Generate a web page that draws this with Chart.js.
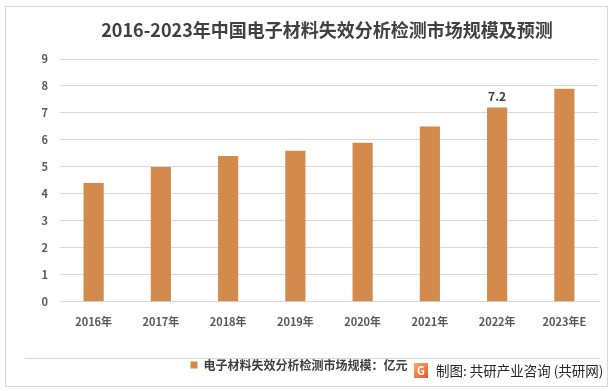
<!DOCTYPE html>
<html lang="zh">
<head>
    <meta charset="UTF-8">
    <script src="https://cdn.jsdelivr.net/npm/chart.js@4.4.0/dist/chart.umd.min.js"></script>
    <title>电子材料失效分析检测市场规模及预测</title>
    <style>
      body { margin: 0; background: #fff; }
      #box { position: absolute; left: 0; top: 0; width: 614px; height: 391px; }
    </style>
</head>
<body>
    <div id="box"><canvas id="chartEM" width="614" height="391"></canvas></div>
    <script>
      const years = ['2016年', '2017年', '2018年', '2019年', '2020年', '2021年', '2022年', '2023年E'];
      const marketSize = [4.4, 5.0, 5.4, 5.6, 5.9, 6.5, 7.2, 7.9];
      const yTicks = [0, 1, 2, 3, 4, 5, 6, 7, 8, 9];
      const labelledYears = ['2022年'];

      const FONT = '"Noto Sans CJK SC", "Noto Sans", sans-serif';
      const ORANGE = '#d38b4d';
      const TITLE = '2016-2023年中国电子材料失效分析检测市场规模及预测';

      // frame, title, separator line, value label and credit line
      const extras = {
        id: 'extras',
        afterDraw(chart) {
          const c = chart.ctx;
          const area = chart.chartArea;
          c.save();
          c.strokeStyle = '#d9d9d9';
          c.lineWidth = 1;
          c.strokeRect(5.5, 6.5, 602, 380);
          c.beginPath();
          c.moveTo(25, 358.5);
          c.lineTo(600, 358.5);
          c.stroke();

          c.fillStyle = '#404040';
          c.font = 'bold 18px ' + FONT;
          c.textAlign = 'center';
          c.textBaseline = 'middle';
          c.fillText(TITLE, (area.left + area.right) / 2 - 2, 30);

          const meta = chart.getDatasetMeta(0);
          c.font = 'bold 12px ' + FONT;
          c.textBaseline = 'bottom';
          years.forEach((y, i) => {
            if (labelledYears.includes(y)) {
              const bar = meta.data[i];
              c.fillText(marketSize[i].toFixed(1), bar.x, bar.y - 5);
            }
          });

          // logo
          const g = c.createLinearGradient(414, 362, 428, 378);
          g.addColorStop(0, '#f6b26b');
          g.addColorStop(1, '#e8542b');
          c.fillStyle = g;
          c.fillRect(414, 363, 14, 15);
          c.fillStyle = '#fff';
          c.font = 'bold 11px ' + FONT;
          c.textBaseline = 'middle';
          c.fillText('G', 421, 371);

          c.fillStyle = '#262626';
          c.font = '13.5px ' + FONT;
          c.textAlign = 'left';
          c.fillText('制图: 共研产业咨询 (共研网)', 436, 371);
          c.restore();
        }
      };

      new Chart(document.getElementById('chartEM'), {
        type: 'bar',
        data: {
          labels: years,
          datasets: [{
            label: '电子材料失效分析检测市场规模：亿元',
            data: marketSize,
            backgroundColor: ORANGE,
            barPercentage: 0.3,
            categoryPercentage: 1
          }]
        },
        options: {
          responsive: false,
          animation: false,
          layout: { padding: { left: 0, right: 16, top: 59, bottom: 10 } },
          plugins: {
            legend: {
              position: 'bottom',
              labels: {
                color: '#404040',
                font: { family: FONT, size: 12, weight: 'bold' },
                boxWidth: 7,
                boxHeight: 7,
                padding: 26
              }
            },
            tooltip: { enabled: false }
          },
          scales: {
            x: {
              grid: { display: false },
              border: { color: '#d9d9d9' },
              ticks: { color: '#595959', font: { family: FONT, size: 11, weight: 'bold' }, padding: 5 }
            },
            y: {
              min: 0,
              max: 9,
              afterFit(axis) { axis.width = 60; },
              afterBuildTicks(axis) { axis.ticks = yTicks.map(v => ({ value: v })); },
              border: { display: false },
              grid: { color: '#d9d9d9', drawTicks: false },
              ticks: { color: '#595959', font: { family: FONT, size: 11, weight: 'bold' }, padding: 12 }
            }
          }
        },
        plugins: [extras]
      });
    </script>
</body>
</html>
